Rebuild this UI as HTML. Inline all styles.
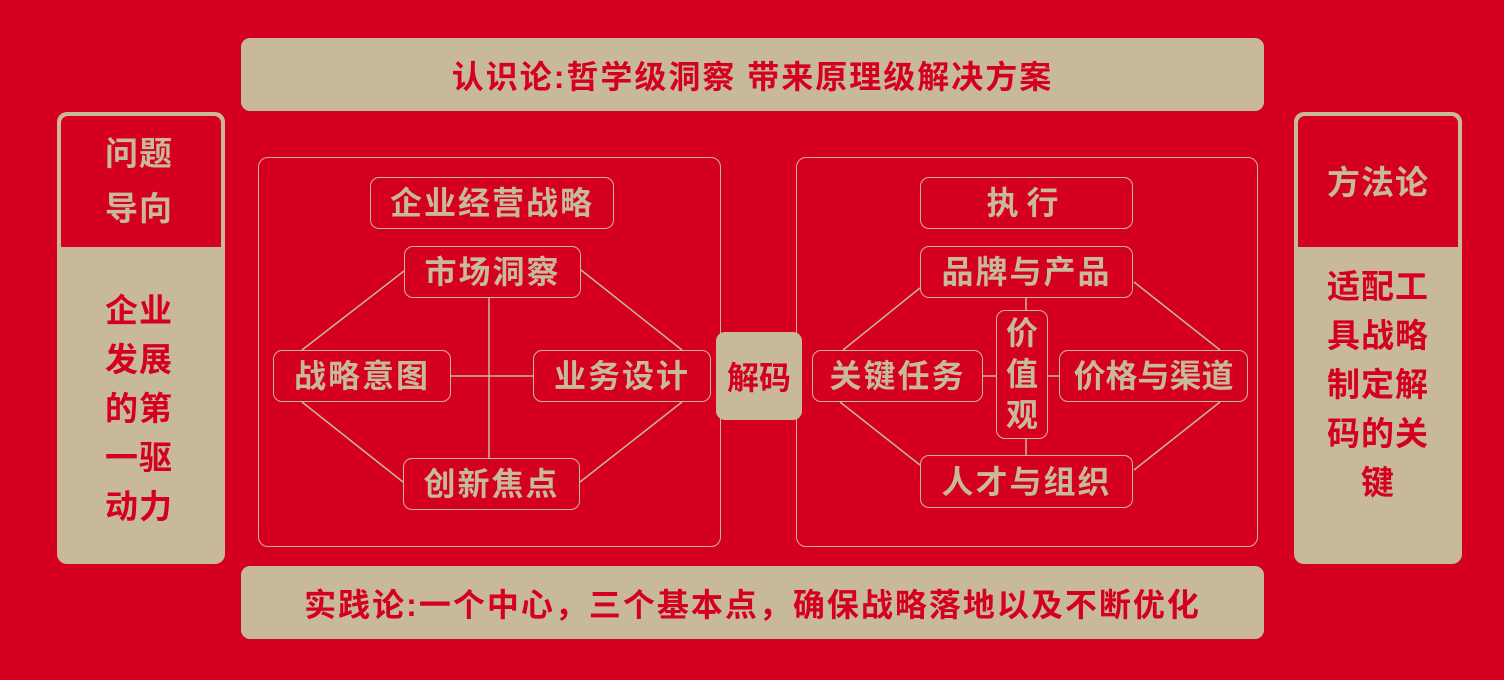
<!DOCTYPE html>
<html><head><meta charset="utf-8"><style>
body{margin:0;width:1504px;height:680px;background:#d5001f;position:relative;overflow:hidden;font-family:"Liberation Sans","Noto Sans CJK SC",sans-serif;font-weight:bold}
.a{position:absolute;box-sizing:border-box}
.bar{background:#c8b99a;border-radius:9px;color:#d5001f;font-size:32px;display:flex;align-items:center;justify-content:center;letter-spacing:2px}
.n{border:1.5px solid #c8b99a;border-radius:9px;color:#c8b99a;font-size:32px;display:flex;align-items:center;justify-content:center;letter-spacing:2px;line-height:1}
.big{border:1.5px solid #c8b99a;border-radius:10px}
.col{font-size:33px;text-align:center;line-height:49px;letter-spacing:1px}
</style></head><body>
<div class="a bar" style="left:241px;top:38px;width:1023px;height:73px">认识论:哲学级洞察 带来原理级解决方案</div>
<div class="a bar" style="left:241px;top:566px;width:1023px;height:73px">实践论:一个中心，三个基本点，确保战略落地以及不断优化</div>

<div class="a" style="left:57px;top:112px;width:168px;height:452px;background:#c8b99a;border-radius:10px"></div>
<div class="a" style="left:61px;top:116px;width:160px;height:131px;background:#d5001f;border-radius:7px 7px 0 0"></div>
<div class="a col" style="left:55px;top:126px;width:168px;color:#c8b99a;line-height:55px">问题<br>导向</div>
<div class="a col" style="left:55px;top:286px;width:168px;color:#d5001f">企业<br>发展<br>的第<br>一驱<br>动力</div>

<div class="a" style="left:1294px;top:112px;width:168px;height:452px;background:#c8b99a;border-radius:10px"></div>
<div class="a" style="left:1298px;top:116px;width:160px;height:131px;background:#d5001f;border-radius:7px 7px 0 0"></div>
<div class="a col" style="left:1294px;top:158px;width:168px;color:#c8b99a">方法论</div>
<div class="a col" style="left:1294px;top:262px;width:168px;color:#d5001f">适配工<br>具战略<br>制定解<br>码的关<br>键</div>

<div class="a big" style="left:258px;top:157px;width:463px;height:390px"></div>
<div class="a big" style="left:796px;top:157px;width:462px;height:390px"></div>

<svg class="a" style="left:0;top:0" width="1504" height="680">
<g stroke="#c8b99a" stroke-width="1.5" fill="none">
<line x1="489" y1="298" x2="489" y2="458"/><line x1="451" y1="376" x2="533" y2="376"/>
<line x1="404" y1="271" x2="302" y2="350"/><line x1="581" y1="270" x2="682" y2="350"/>
<line x1="302" y1="402" x2="403" y2="482"/><line x1="682" y1="402" x2="580" y2="482"/>
<line x1="1026" y1="298" x2="1026" y2="310"/><line x1="1026" y1="439" x2="1026" y2="455"/>
<line x1="983" y1="376" x2="996" y2="376"/><line x1="1048" y1="376" x2="1059" y2="376"/>
<line x1="920" y1="288" x2="843" y2="350"/><line x1="1134" y1="282" x2="1220" y2="350"/>
<line x1="840" y1="402" x2="920" y2="465"/><line x1="1220" y1="402" x2="1134" y2="470"/>
</g></svg>

<div class="a n" style="left:370px;top:177px;width:244px;height:52px">企业经营战略</div>
<div class="a n" style="left:404px;top:246px;width:177px;height:52px">市场洞察</div>
<div class="a n" style="left:273px;top:350px;width:178px;height:52px">战略意图</div>
<div class="a n" style="left:533px;top:350px;width:178px;height:52px">业务设计</div>
<div class="a n" style="left:403px;top:458px;width:177px;height:52px">创新焦点</div>
<div class="a bar" style="left:716px;top:332px;width:86px;height:88px;font-size:32px;letter-spacing:0">解码</div>

<div class="a n" style="left:920px;top:177px;width:213px;height:52px;letter-spacing:8px">执行</div>
<div class="a n" style="left:920px;top:246px;width:213px;height:52px">品牌与产品</div>
<div class="a n" style="left:812px;top:350px;width:171px;height:52px">关键任务</div>
<div class="a n" style="left:996px;top:310px;width:52px;height:129px;line-height:41px;text-align:center;flex-direction:column;letter-spacing:0">价<br>值<br>观</div>
<div class="a n" style="left:1059px;top:350px;width:189px;height:52px;letter-spacing:0">价格与渠道</div>
<div class="a n" style="left:920px;top:455px;width:213px;height:53px">人才与组织</div>
</body></html>
